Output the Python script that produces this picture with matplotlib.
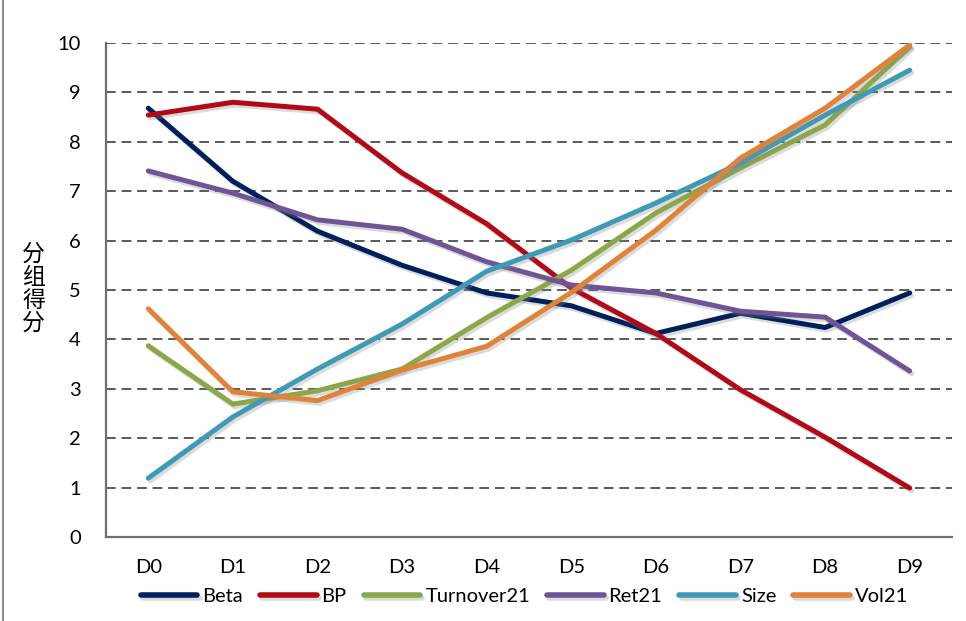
import numpy as np
import matplotlib
matplotlib.use('Agg')
import matplotlib.pyplot as plt
import matplotlib.patheffects as pe
from matplotlib.lines import Line2D

plt.rcParams['font.family'] = ['Lato', 'Noto Sans CJK SC', 'DejaVu Sans']

# ── 数据 ──────────────────────────────────────────────
groups = ['D0', 'D1', 'D2', 'D3', 'D4', 'D5', 'D6', 'D7', 'D8', 'D9']
beta       = [8.68, 7.20, 6.19, 5.50, 4.94, 4.68, 4.12, 4.53, 4.24, 4.94]
bp         = [8.54, 8.80, 8.66, 7.37, 6.34, 5.04, 4.12, 2.98, 2.02, 0.99]
turnover21 = [3.87, 2.69, 2.96, 3.40, 4.44, 5.40, 6.56, 7.47, 8.34, 9.92]
ret21      = [7.41, 6.96, 6.42, 6.23, 5.57, 5.10, 4.94, 4.57, 4.45, 3.36]
size       = [1.19, 2.43, 3.40, 4.31, 5.38, 6.01, 6.76, 7.57, 8.54, 9.45]
vol21      = [4.62, 2.94, 2.76, 3.38, 3.86, 4.95, 6.21, 7.67, 8.68, 9.96]

series = [
    ('Beta', beta, '#00205B'),
    ('BP', bp, '#B00A18'),
    ('Turnover21', turnover21, '#8AA84A'),
    ('Ret21', ret21, '#6F5596'),
    ('Size', size, '#3E9AB5'),
    ('Vol21', vol21, '#E0823A'),
]

fig = plt.figure(figsize=(9.66, 6.21), dpi=100)
ax = fig.add_axes([0.1097, 0.1353, 0.8758, 0.7955])

x = np.arange(len(groups))
shadow = [pe.SimpleLineShadow(offset=(1.5, -2), shadow_color='#888888', alpha=0.3), pe.Normal()]
for name, vals, color in series:
    ax.plot(x, vals, color=color, lw=3.6, label=name, solid_capstyle='round',
            solid_joinstyle='miter', path_effects=shadow)

ax.set_xlim(-0.5, len(groups) - 0.5)
ax.set_ylim(0, 10)
ax.set_yticks(range(0, 11))
ax.set_xticks(x)
ax.set_xticklabels(groups)
ax.tick_params(axis='both', length=0, labelsize=14.5, colors='black')
ax.tick_params(axis='y', pad=18)
ax.tick_params(axis='x', pad=16)

for y in range(1, 11):
    ax.axhline(y, color='#595959', lw=1.4, linestyle=(0, (5, 3)), zorder=0)

for s in ['top', 'right']:
    ax.spines[s].set_visible(False)
for s in ['left', 'bottom']:
    ax.spines[s].set_color('#6E6E6E')
    ax.spines[s].set_linewidth(1.6)

fig.text(0.035, 0.535, '\n'.join('分组得分'), ha='center', va='center',
         fontsize=16.5, linespacing=1.0, family=['Noto Sans CJK SC', 'DejaVu Sans'])

leg = fig.legend(loc='center', bbox_to_anchor=(0.543, 0.039), ncol=6, frameon=False,
                 fontsize=14.5, handlelength=2.8, handletextpad=0.25, columnspacing=0.85)
for h in leg.get_lines():
    h.set_linewidth(4)
    h.set_solid_capstyle('round')

# 左侧边框线
fig.add_artist(Line2D([0.003, 0.003], [0, 1], color='#8C8C8C', lw=1.5, transform=fig.transFigure))

plt.savefig('out.png', dpi=100)
